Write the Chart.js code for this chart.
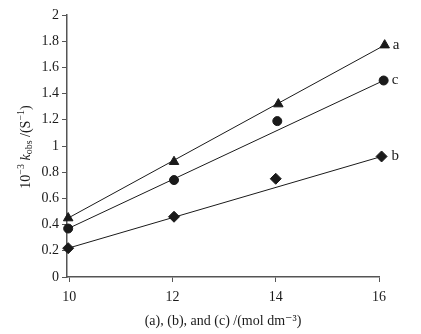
<!DOCTYPE html>
<html>
<head>
<meta charset="utf-8">
<script src="https://cdn.jsdelivr.net/npm/chart.js@4"></script>
<style>
  html, body { margin: 0; padding: 0; background: #fff; }
  #wrap { width: 421px; height: 334px; }
</style>
</head>
<body>
<div id="wrap"><canvas id="kinChart" width="421" height="334"></canvas></div>
<script>
// concentrations for the three series
const xA = [9.98, 12.03, 14.05, 16.11];
const xB = [9.98, 12.03, 14.0, 16.05];
const xC = [9.98, 12.03, 14.03, 16.09];
// measured k_obs (x10^-3)
const valA = [0.45, 0.88, 1.32, 1.77];
const valB = [0.22, 0.46, 0.75, 0.92];
const valC = [0.37, 0.74, 1.19, 1.50];
// fitted line end points
const fitXA = [9.98, 16.11];
const fitXB = [9.98, 16.05];
const fitXC = [9.98, 16.09];
const fitA = [0.45, 1.77];
const fitB = [0.22, 0.92];
const fitC = [0.37, 1.50];
const xTicks = [10, 12, 14, 16];
const seriesLabels = ['a', 'b', 'c'];

const ink = '#1a1a1a';
const serif = '"Liberation Serif", "DejaVu Serif", serif';

function pts(xs, ys) {
    return xs.map((x, i) => ({ x: x, y: ys[i] }));
}

// labels a / b / c next to the last point + rotated y title
const annotate = {
    id: 'annotate',
    afterDraw(chart) {
        const ctx = chart.ctx;
        const xs = chart.scales.x, ys = chart.scales.y;
        ctx.save();
        ctx.fillStyle = ink;
        ctx.font = '15px ' + serif;
        ctx.textBaseline = 'middle';
        const ends = [[xA, valA], [xB, valB], [xC, valC]];
        const gaps = [8, 10, 8];
        ends.forEach((e, i) => {
            const n = e[0].length - 1;
            ctx.fillText(seriesLabels[i], xs.getPixelForValue(e[0][n]) + gaps[i], ys.getPixelForValue(e[1][n]));
        });

        // y axis title: 10^-3 k_obs /(S^-1)
        ctx.translate(26, 147);
        ctx.rotate(-Math.PI / 2);
        const parts = [
            { t: '10', f: '14px ' + serif, dy: 0 },
            { t: '\u2212' + '3', f: '10px ' + serif, dy: -5 },
            { t: ' k', f: 'italic 14px ' + serif, dy: 0 },
            { t: 'obs', f: '10px ' + serif, dy: 3 },
            { t: ' /(S', f: '14px ' + serif, dy: 0 },
            { t: '\u2212' + '1', f: '10px ' + serif, dy: -5 },
            { t: ')', f: '14px ' + serif, dy: 0 }
        ];
        let total = 0;
        parts.forEach(p => { ctx.font = p.f; total += ctx.measureText(p.t).width; });
        let cx = -total / 2;
        ctx.textBaseline = 'middle';
        parts.forEach(p => {
            ctx.font = p.f;
            ctx.fillText(p.t, cx, p.dy);
            cx += ctx.measureText(p.t).width;
        });
        ctx.restore();
    }
};

const ctx = document.getElementById('kinChart').getContext('2d');
const chart = new Chart(ctx, {
    type: 'scatter',
    data: {
        datasets: [
            { label: 'fit a', data: pts(fitXA, fitA), showLine: true, pointRadius: 0, borderColor: ink, borderWidth: 1, clip: false },
            { label: 'fit c', data: pts(fitXC, fitC), showLine: true, pointRadius: 0, borderColor: ink, borderWidth: 1, clip: false },
            { label: 'fit b', data: pts(fitXB, fitB), showLine: true, pointRadius: 0, borderColor: ink, borderWidth: 1, clip: false },
            { label: 'a', data: pts(xA, valA), pointStyle: 'triangle', pointRadius: 5.5, borderWidth: 1, backgroundColor: ink, borderColor: ink, clip: false },
            { label: 'c', data: pts(xC, valC), pointStyle: 'circle', pointRadius: 4.5, borderWidth: 1, backgroundColor: ink, borderColor: ink, clip: false },
            { label: 'b', data: pts(xB, valB), pointStyle: 'rectRot', pointRadius: 5.5, borderWidth: 1, backgroundColor: ink, borderColor: ink, clip: false }
        ]
    },
    options: {
        responsive: false,
        animation: false,
        layout: { padding: { top: 15, right: 42, left: 0, bottom: 0 } },
        plugins: {
            legend: { display: false },
            tooltip: { enabled: false }
        },
        scales: {
            x: {
                type: 'linear',
                min: 9.957,
                max: 16,
                afterBuildTicks: (s) => { s.ticks = xTicks.map(v => ({ value: v })); },
                afterFit: (s) => { s.height = 57; },
                grid: { drawOnChartArea: false, tickLength: 5, color: '#555' },
                border: { color: '#555', width: 1.5 },
                ticks: { color: ink, font: { family: serif, size: 14 }, padding: 7, maxRotation: 0 },
                title: {
                    display: true,
                    text: '(a), (b), and (c) /(mol dm\u207B\u00B3)',
                    color: ink,
                    font: { family: serif, size: 14 },
                    padding: { top: 0, bottom: 4 }
                }
            },
            y: {
                min: 0,
                max: 2,
                afterFit: (s) => { s.width = 67; },
                grid: { drawOnChartArea: false, tickLength: 5, color: '#555' },
                border: { color: '#555', width: 1.5 },
                ticks: {
                    stepSize: 0.2,
                    color: ink,
                    font: { family: serif, size: 14 },
                    padding: 3,
                    callback: (v) => String(Math.round(v * 10) / 10)
                }
            }
        }
    },
    plugins: [annotate]
});
</script>
</body>
</html>
